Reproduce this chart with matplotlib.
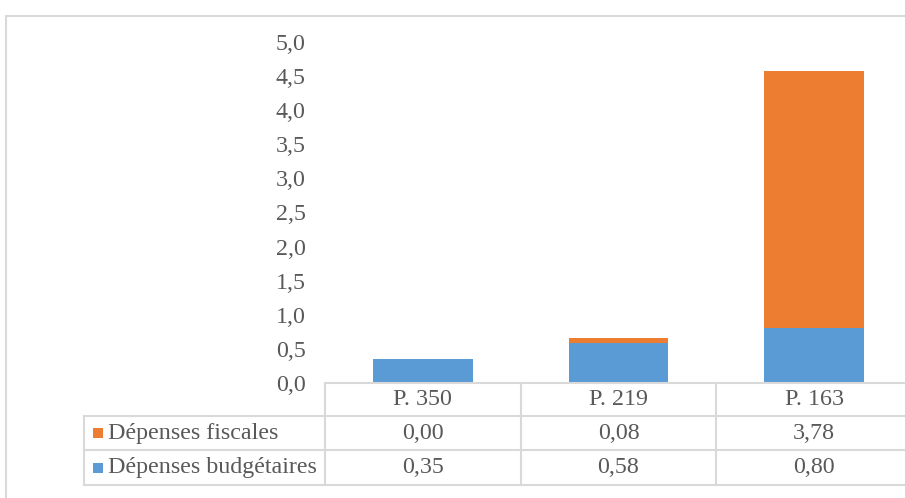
import matplotlib
matplotlib.use("Agg")
import matplotlib.pyplot as plt
from matplotlib.lines import Line2D
from matplotlib.patches import Rectangle
import matplotlib.transforms as mtransforms

categories = ["P. 350", "P. 219", "P. 163"]
budgetaires = [0.35, 0.58, 0.80]
fiscales = [0.00, 0.08, 3.78]
series_names = ["Dépenses fiscales", "Dépenses budgétaires"]
yticks = [0.0, 0.5, 1.0, 1.5, 2.0, 2.5, 3.0, 3.5, 4.0, 4.5, 5.0]

BLUE = "#5B9BD5"
ORANGE = "#ED7D31"
TXT = "#595959"
GRID = "#D9D9D9"
FONT = "Liberation Serif"
FS = 17.3

W, H = 905, 498
fig = plt.figure(figsize=(W / 100, H / 100), dpi=100)
fx = lambda px: px / W
fy = lambda py: 1 - py / H

ax_left, ax_right, ax_bot, ax_top = 325, 912, 383, 42
ax = fig.add_axes([fx(ax_left), fy(ax_bot), fx(ax_right) - fx(ax_left), fy(ax_top) - fy(ax_bot)])

x = list(range(len(categories)))
ax.bar(x, budgetaires, width=0.51, color=BLUE, zorder=2)
ax.bar(x, fiscales, width=0.51, bottom=budgetaires, color=ORANGE, zorder=2)
ax.set_xlim(-0.5, len(categories) - 0.5)
ax.set_ylim(0, 5)
ax.set_yticks(yticks)
ax.set_yticklabels([f"{v:.1f}".replace(".", ",") for v in yticks],
                   fontfamily=FONT, fontsize=FS, color=TXT)
ax.tick_params(axis="y", length=0, pad=14)
ax.tick_params(axis="x", length=0, labelbottom=False)
for s in ax.spines.values():
    s.set_visible(False)

# outer chart border
fig.add_artist(Rectangle((fx(6), fy(560)), fx(1000) - fx(6), fy(16) - fy(560),
                         transform=fig.transFigure, fill=False, edgecolor=GRID, lw=1.5))

# data table
blend = mtransforms.blended_transform_factory(ax.transData, fig.transFigure)
rows_y = [383, 416, 450, 485]
lw = 1.5
fig.add_artist(Line2D([fx(ax_left), fx(ax_right)], [fy(rows_y[0])] * 2,
                      transform=fig.transFigure, color=GRID, lw=lw))
for ry in rows_y[1:]:
    fig.add_artist(Line2D([fx(84), fx(ax_right)], [fy(ry)] * 2,
                          transform=fig.transFigure, color=GRID, lw=lw))
fig.add_artist(Line2D([fx(84), fx(84)], [fy(rows_y[1]), fy(rows_y[3])],
                      transform=fig.transFigure, color=GRID, lw=lw))
for i in range(len(categories) + 1):
    ax.add_artist(Line2D([i - 0.5, i - 0.5], [fy(rows_y[0]), fy(rows_y[3])],
                         transform=blend, color=GRID, lw=lw, clip_on=False))

def mid(a, b):
    return fy((a + b) / 2)

for i, c in enumerate(categories):
    ax.text(i, mid(rows_y[0], rows_y[1]), c, transform=blend, ha="center", va="center",
            fontfamily=FONT, fontsize=FS, color=TXT, clip_on=False)
    ax.text(i, mid(rows_y[1], rows_y[2]), f"{fiscales[i]:.2f}".replace(".", ","),
            transform=blend, ha="center", va="center",
            fontfamily=FONT, fontsize=FS, color=TXT, clip_on=False)
    ax.text(i, mid(rows_y[2], rows_y[3]), f"{budgetaires[i]:.2f}".replace(".", ","),
            transform=blend, ha="center", va="center",
            fontfamily=FONT, fontsize=FS, color=TXT, clip_on=False)

for k, (name, col) in enumerate(zip(series_names, [ORANGE, BLUE])):
    yc = (rows_y[1 + k] + rows_y[2 + k]) / 2
    fig.add_artist(Rectangle((fx(93), fy(yc + 5)), fx(10), fy(0) - fy(10),
                             transform=fig.transFigure, color=col, lw=0))
    fig.text(fx(108), fy(yc), name, ha="left", va="center",
             fontfamily=FONT, fontsize=FS, color=TXT)

fig.savefig("out.png", dpi=100)
